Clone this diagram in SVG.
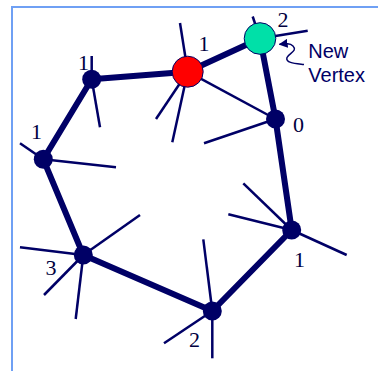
<svg xmlns="http://www.w3.org/2000/svg" width="378" height="371" viewBox="0 0 378 371">
<defs>
<style>
.frame{stroke:#6fa0f4;stroke-width:2;fill:none}
.edge{stroke:#000066;stroke-width:6;stroke-linecap:round;fill:none}
.spoke{stroke:#000066;stroke-width:2.5;fill:none}
.dot{fill:#000066}
.lbl{font-family:"Liberation Serif",serif;font-size:22px;fill:#000040}
.note{font-family:"Liberation Sans",Arial,sans-serif;font-size:20px;fill:#000066}
</style>
<marker id="ah" viewBox="0 0 10 10" refX="9" refY="5" markerWidth="6" markerHeight="6" orient="auto">
<path d="M0,0 L10,5 L0,10 z" fill="#000066"/>
</marker>
</defs>
<rect width="378" height="371" fill="#fff"/>
<path class="frame" d="M12,371 V7 H378"/>
<g id="connectors">
<line class="edge" x1="91.7" y1="79.3" x2="187.7" y2="71.7"/>
<line class="edge" x1="187.7" y1="71.7" x2="260" y2="38.5"/>
<line class="edge" x1="260" y1="38.5" x2="275.5" y2="119"/>
<line class="edge" x1="275.5" y1="119" x2="291.7" y2="230"/>
<line class="edge" x1="291.7" y1="230" x2="212.3" y2="311"/>
<line class="edge" x1="212.3" y1="311" x2="83.3" y2="255"/>
<line class="edge" x1="83.3" y1="255" x2="43.3" y2="159.3"/>
<line class="edge" x1="43.3" y1="159.3" x2="91.7" y2="79.3"/>
<line class="spoke" x1="187.7" y1="71.7" x2="275.5" y2="119"/>
<line class="spoke" x1="187.7" y1="71.7" x2="180" y2="23"/>
<line class="spoke" x1="187.7" y1="71.7" x2="156" y2="119"/>
<line class="spoke" x1="187.7" y1="71.7" x2="172.3" y2="142.3"/>
<line class="spoke" x1="260" y1="38.5" x2="252.7" y2="16.5"/>
<line class="spoke" x1="260" y1="38.5" x2="307.7" y2="30.7"/>
<line class="spoke" x1="275.5" y1="119" x2="204" y2="143.3"/>
<line class="spoke" x1="91.7" y1="79.3" x2="91.7" y2="56"/>
<line class="spoke" x1="91.7" y1="79.3" x2="100" y2="127.3"/>
<line class="spoke" x1="43.3" y1="159.3" x2="20" y2="143.3"/>
<line class="spoke" x1="43.3" y1="159.3" x2="116" y2="167.3"/>
<line class="spoke" x1="83.3" y1="255" x2="20" y2="247.3"/>
<line class="spoke" x1="83.3" y1="255" x2="140" y2="215"/>
<line class="spoke" x1="83.3" y1="255" x2="44" y2="295"/>
<line class="spoke" x1="83.3" y1="255" x2="75.7" y2="319"/>
<line class="spoke" x1="212.3" y1="311" x2="203.3" y2="239.3"/>
<line class="spoke" x1="212.3" y1="311" x2="212.3" y2="358.3"/>
<line class="spoke" x1="212.3" y1="311" x2="164" y2="343.3"/>
<line class="spoke" x1="291.7" y1="230" x2="243.3" y2="183.3"/>
<line class="spoke" x1="291.7" y1="230" x2="228.3" y2="214.3"/>
<line class="spoke" x1="291.7" y1="230" x2="346.7" y2="255"/>
<path d="M304,64.5 C296,63.5 285,63 287,57.5 C289,53 298,51 293,46 C290,43 286,43.5 279.5,44.3" fill="none" stroke="#000066" stroke-width="1.5" marker-end="url(#ah)"/>
</g>
<g id="nA"><circle class="dot" cx="91.7" cy="79.3" r="9.5"/><text class="lbl" x="78" y="70">1</text></g>
<g id="nB"><circle class="dot" cx="43.3" cy="159.3" r="9.5"/><text class="lbl" x="31" y="139.3">1</text></g>
<g id="nC"><circle class="dot" cx="83.3" cy="255" r="9.5"/><text class="lbl" x="45.5" y="275">3</text></g>
<g id="nD"><circle class="dot" cx="212.3" cy="311" r="9.5"/><text class="lbl" x="189" y="347">2</text></g>
<g id="nE"><circle class="dot" cx="291.7" cy="230" r="9.5"/><text class="lbl" x="294" y="267">1</text></g>
<g id="nF"><circle class="dot" cx="275.5" cy="119" r="9.5"/><text class="lbl" x="293" y="131.5">0</text></g>
<g id="nR"><circle cx="187.7" cy="71.7" r="15.5" fill="#ff0000" stroke="#000066" stroke-width="1"/><text class="lbl" x="198.5" y="51">1</text></g>
<g id="nG"><circle cx="260" cy="38.5" r="15.8" fill="#00e0a8" stroke="#000066" stroke-width="1"/><text class="lbl" x="277.5" y="26.5">2</text></g>
<g id="note"><text class="note" x="308.3" y="57.5">New</text><text class="note" x="308.3" y="81.5">Vertex</text></g>
</svg>
